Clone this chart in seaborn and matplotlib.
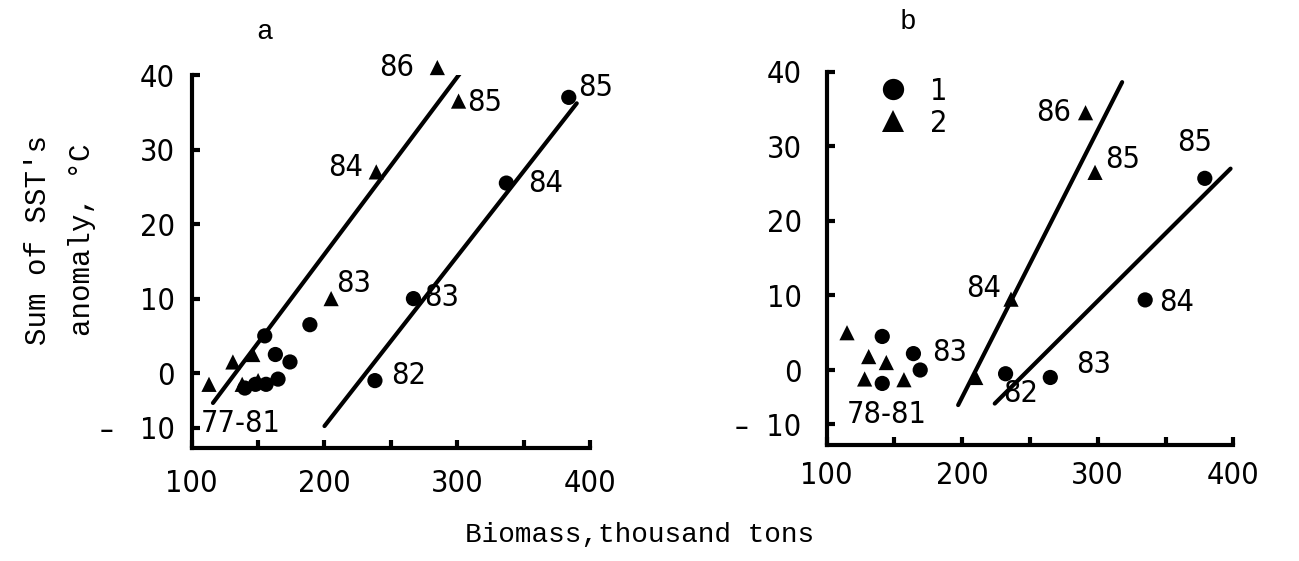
import pandas as pd
import matplotlib
matplotlib.use('Agg')
import matplotlib.pyplot as plt
import seaborn as sns

# Panel a: points (1 = circles, 2 = triangles)
circ_a_x = [140, 148, 156, 163, 165, 174, 155, 189, 238, 267, 337, 384]
circ_a_y = [-2, -1.5, -1.5, 2.5, -0.8, 1.5, 5, 6.5, -1, 10, 25.5, 37]
tri_a_x = [113, 131, 138, 146, 150, 205, 239, 301, 285]
tri_a_y = [-1.5, 1.5, -1.5, 2.5, -1, 10, 27, 36.5, 41]

# Panel a: regression lines (end points)
line_a1_x = [116, 302]
line_a1_y = [-4, 40.2]
line_a2_x = [200, 390]
line_a2_y = [-7.1, 36.2]

# Panel b
circ_b_x = [141, 164, 169, 141, 232, 265, 335, 379]
circ_b_y = [4.5, 2.2, 0, -1.8, -0.5, -1, 9.4, 25.7]
tri_b_x = [115, 131, 144, 128, 157, 210, 236, 298, 291]
tri_b_y = [5, 1.8, 1, -1.2, -1.3, -1, 9.5, 26.5, 34.5]

line_b1_x = [197, 318]
line_b1_y = [-4.7, 38.6]
line_b2_x = [224, 398]
line_b2_y = [-4.5, 27]

# year labels: (x, y, text) of the labelled points
labels_a = [(285, 41, '86'), (301, 36.5, '85'), (239, 27, '84'), (205, 10, '83'),
            (384, 37, '85'), (337, 25.5, '84'), (267, 10, '83'), (238, -1, '82')]
offsets_a = [(-29, 0), (19, -1), (-22, 3), (16, 11),
             (19, 7), (28, 0), (20, 1), (24, 4)]
labels_b = [(291, 34.5, '86'), (298, 26.5, '85'), (236, 9.5, '84'),
            (379, 25.7, '85'), (335, 9.4, '84'), (265, -1, '83'),
            (232, -0.5, '82'), (164, 2.2, '83')]
offsets_b = [(-23, 0), (20, 9), (-20, 8),
             (-7, 26), (23, -2), (31, 9),
             (11, -14), (26, 1)]
group_a = (137, -6.7, '77-81')
group_b = (144.5, -6.0, '78-81')

sns.set_theme(style='white')
num_font = ['DejaVu Sans']
mono_font = ['Liberation Mono', 'DejaVu Sans Mono']
plt.rcParams['font.family'] = num_font
plt.rcParams['font.stretch'] = 'condensed'
plt.rcParams['text.color'] = 'black'

fig = plt.figure(figsize=(12.99, 5.61), dpi=100)
ax_a = fig.add_axes([0.1476, 0.2020, 0.3066, 0.6643])
ax_b = fig.add_axes([0.6364, 0.2075, 0.3130, 0.6647])


def make_df(cx, cy, tx, ty):
    d1 = pd.DataFrame({'x': cx, 'y': cy, 'kind': '1'})
    d2 = pd.DataFrame({'x': tx, 'y': ty, 'kind': '2'})
    return pd.concat([d1, d2], ignore_index=True)


panels = [
    (ax_a, make_df(circ_a_x, circ_a_y, tri_a_x, tri_a_y),
     [(line_a1_x, line_a1_y), (line_a2_x, line_a2_y)], labels_a, offsets_a, group_a, 12, 15,
     '\u2013   10'),
    (ax_b, make_df(circ_b_x, circ_b_y, tri_b_x, tri_b_y),
     [(line_b1_x, line_b1_y), (line_b2_x, line_b2_y)], labels_b, offsets_b, group_b, 18, 12,
     '\u2013  10'),
]

for i, (ax, df, lines, labs, offs, grp, ypad, xpad, low_lab) in enumerate(panels):
    for lx, ly in lines:
        sns.lineplot(x=lx, y=ly, color='black', linewidth=3, ax=ax)
    sns.scatterplot(data=df, x='x', y='y', style='kind', markers={'1': 'o', '2': '^'},
                    color='black', s=120, edgecolor='black', linewidth=0,
                    legend=(i == 1), ax=ax, clip_on=False, zorder=5)
    for (px, py, t), (dx, dy) in zip(labs, offs):
        ax.annotate(t, (px, py), xytext=(dx, dy), textcoords='offset points',
                    ha='center', va='center', fontsize=22, annotation_clip=False)
    ax.text(grp[0], grp[1], grp[2], ha='center', va='center', fontsize=22)

    ax.set_xlim(100, 400)
    ax.set_ylim(-10, 40)
    ax.set_xticks([100, 200, 300, 400])
    ax.set_xticklabels(['100', '200', '300', '400'])
    ax.set_xticks([150, 250, 350], minor=True)
    ax.set_yticks([-7.3, 0, 10, 20, 30, 40])
    ax.set_yticklabels([low_lab, '0', '10', '20', '30', '40'])
    ax.yaxis.get_major_ticks()[0].tick1line.set_visible(False)
    ax.tick_params(axis='both', which='both', direction='in', length=6, width=3,
                   colors='black', labelsize=22)
    ax.tick_params(axis='x', which='both', bottom=True, pad=xpad)
    ax.tick_params(axis='y', left=True, pad=ypad)
    for side in ['top', 'right']:
        ax.spines[side].set_visible(False)
    for side in ['left', 'bottom']:
        ax.spines[side].set_linewidth(3)
        ax.spines[side].set_color('black')
    ax.set_xlabel('')
    ax.set_ylabel('')
    ax.grid(False)

sns.move_legend(ax_b, 'upper left', bbox_to_anchor=(0.02, 1.06), frameon=False, title=None,
                fontsize=22, markerscale=1.4, handletextpad=0.2, labelspacing=0.1)

fig.text(265 / 1299, 1 - 32 / 561, 'a', ha='center', va='center', fontsize=20, family=mono_font)
fig.text(908 / 1299, 1 - 22 / 561, 'b', ha='center', va='center', fontsize=20, family=mono_font)
fig.text(60 / 1299, 1 - 240 / 561, "Sum of SST's\nanomaly, \u00b0C", rotation=90,
         ha='center', va='center', multialignment='center', linespacing=1.7,
         fontsize=21, family=mono_font)
fig.text(640 / 1299, 1 - 535 / 561, 'Biomass,thousand tons', ha='center', va='center',
         fontsize=20, family=mono_font)

fig.savefig('out.png', dpi=100, facecolor='white')
